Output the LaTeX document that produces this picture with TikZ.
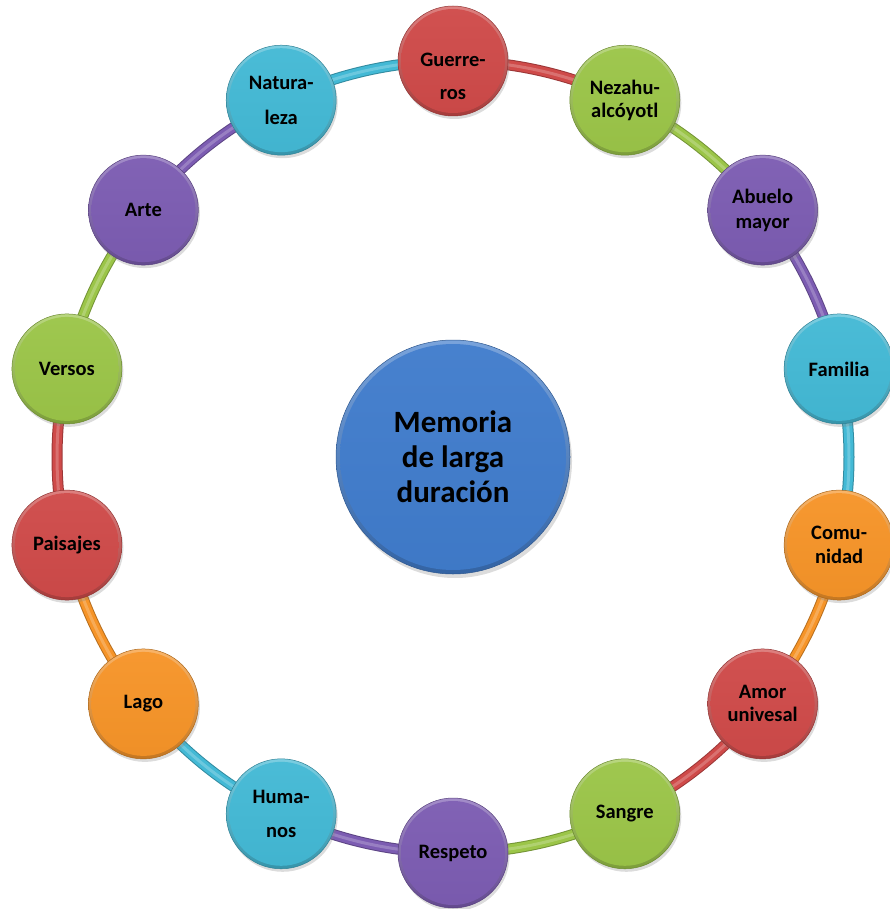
\documentclass[tikz,border=0pt]{standalone}
\usepackage{fontspec}
\setmainfont{Carlito}
\usetikzlibrary{shadows}
\pgfdeclarelayer{bg}
\pgfsetlayers{bg,main}
\definecolor{cred}{RGB}{207,74,73}
\definecolor{cgreen}{RGB}{155,197,72}
\definecolor{cpurple}{RGB}{124,92,178}
\definecolor{ccyan}{RGB}{67,185,213}
\definecolor{corange}{RGB}{246,148,40}
\definecolor{cblue}{RGB}{64,124,204}
\tikzset{
  bub/.style={circle, minimum size=110pt, inner sep=0pt,
    draw=#1!70!black, line width=0.5pt,
    top color=#1!70!white, bottom color=#1!80!black,
    drop shadow={opacity=0.28, shadow xshift=1.5pt, shadow yshift=-3pt},
    path picture={\shade[top color=#1!96!white, bottom color=#1!97!black]
      (path picture bounding box.center) circle[radius=52pt];}},
  bigbub/.style={circle, minimum size=234pt, inner sep=0pt,
    draw=#1!70!black, line width=0.5pt,
    top color=#1!70!white, bottom color=#1!80!black,
    drop shadow={opacity=0.28, shadow xshift=2pt, shadow yshift=-4pt},
    path picture={\shade[top color=#1!96!white, bottom color=#1!97!black]
      (path picture bounding box.center) circle[radius=113pt];}},
  lbl/.style={font=\fontsize{20.5}{#1}\selectfont\bfseries, align=center, inner sep=0pt, text=black},
  lbl/.default=23,
  tube/.style={draw=#1, line width=9pt,
    preaction={draw=#1!75!black, line width=11pt},
    postaction={draw=white, draw opacity=0.22, line width=3pt}},
  ring/.style={bend left=12.857, looseness=0.8625}
}
\begin{document}
\begin{tikzpicture}[x=1pt,y=-1pt]
\useasboundingbox (0,0) rectangle (889,909);
% outer circles
\node[bub=cred]    (n0)  at (453,61) {};
\node[bub=cgreen]  (n1)  at (624.8,100.2) {};
\node[bub=cpurple] (n2)  at (762.6,210.1) {};
\node[bub=ccyan]   (n3)  at (839.1,368.9) {};
\node[bub=corange] (n4)  at (839.1,545.1) {};
\node[bub=cred]    (n5)  at (762.6,703.9) {};
\node[bub=cgreen]  (n6)  at (624.8,813.8) {};
\node[bub=cpurple] (n7)  at (453,853) {};
\node[bub=ccyan]   (n8)  at (281.2,813.8) {};
\node[bub=corange] (n9)  at (143.4,703.9) {};
\node[bub=cred]    (n10) at (66.9,545.1) {};
\node[bub=cgreen]  (n11) at (66.9,368.9) {};
\node[bub=cpurple] (n12) at (143.4,210.1) {};
\node[bub=ccyan]   (n13) at (281.2,100.2) {};
% center
\node[bigbub=cblue] (c) at (453,457) {};
% labels
\node[lbl=33] (t0) at (453,76) {Guerre-\\ros};
\node[lbl=23] (t1) at (n1) {Nezahu-\\alcóyotl};
\node[lbl=25] (t2) at (n2) {Abuelo\\mayor};
\node[lbl] (t3) at (n3) {Familia};
\node[lbl=24] (t4) at (n4) {Comu-\\nidad};
\node[lbl=23] (t5) at (n5) {Amor\\univesal};
\node[lbl] (t6) at (n6) {Sangre};
\node[lbl] (t7) at (n7) {Respeto};
\node[lbl=34] (t8) at (n8) {Huma-\\nos};
\node[lbl] (t9) at (n9) {Lago};
\node[lbl] (t10) at (n10) {Paisajes};
\node[lbl] (t11) at (n11) {Versos};
\node[lbl] (t12) at (n12) {Arte};
\node[lbl=35] (t13) at (n13) {Natura-\\leza};
\node[font=\fontsize{31}{35}\selectfont\bfseries, align=center, inner sep=0pt] (tc) at (c) {Memoria\\de larga\\duración};
% ring connectors
\begin{pgfonlayer}{bg}
\draw[tube=cred]    (n0.center)  to[ring] (n1.center);
\draw[tube=cgreen]  (n1.center)  to[ring] (n2.center);
\draw[tube=cpurple] (n2.center)  to[ring] (n3.center);
\draw[tube=ccyan]   (n3.center)  to[ring] (n4.center);
\draw[tube=corange] (n4.center)  to[ring] (n5.center);
\draw[tube=cred]    (n5.center)  to[ring] (n6.center);
\draw[tube=cgreen]  (n6.center)  to[ring] (n7.center);
\draw[tube=cpurple] (n7.center)  to[ring] (n8.center);
\draw[tube=ccyan]   (n8.center)  to[ring] (n9.center);
\draw[tube=corange] (n9.center)  to[ring] (n10.center);
\draw[tube=cred]    (n10.center) to[ring] (n11.center);
\draw[tube=cgreen]  (n11.center) to[ring] (n12.center);
\draw[tube=cpurple] (n12.center) to[ring] (n13.center);
\draw[tube=ccyan]   (n13.center) to[ring] (n0.center);
\end{pgfonlayer}
\end{tikzpicture}
\end{document}
